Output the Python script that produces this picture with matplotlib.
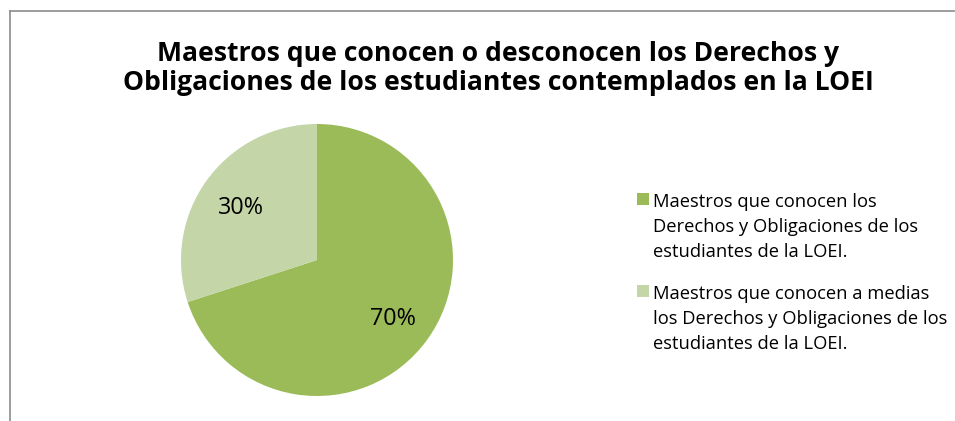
import matplotlib
matplotlib.use("Agg")
import matplotlib.pyplot as plt
import matplotlib.transforms as mtransforms
from matplotlib.lines import Line2D
from matplotlib.patches import Rectangle

TITLE_LINES = [
    "Maestros que conocen o desconocen los Derechos y",
    "Obligaciones de los estudiantes contemplados en la LOEI",
]
LABELS = [
    "Maestros que conocen los\nDerechos y Obligaciones de los\nestudiantes de la LOEI.",
    "Maestros que conocen a medias\nlos Derechos y Obligaciones de los\nestudiantes de la LOEI.",
]
VALUES = [70, 30]
COLORS = ["#9BBB59", "#C4D5A7"]

plt.rcParams["font.family"] = ["Open Sans", "DejaVu Sans"]

W, H = 955, 421
fig = plt.figure(figsize=(W / 100, H / 100), dpi=100)


def fx(px):
    return px / W


def fy(py):
    return 1 - py / H


# chart frame (only top and left edges visible in the crop)
fig.add_artist(Line2D([fx(9.5), fx(9.5)], [0, fy(10.5)],
                      transform=fig.transFigure, color="#8C8C8C", lw=1.2))
fig.add_artist(Line2D([fx(9.5), 1], [fy(10.5), fy(10.5)],
                      transform=fig.transFigure, color="#8C8C8C", lw=1.2))

for i, line in enumerate(TITLE_LINES):
    fig.text(fx(498), fy(61.5 + 28.5 * i), line, ha="center", va="baseline",
             fontsize=19.1, fontweight="bold", color="#000000")

ax = fig.add_axes([fx(181), 1 - 396 / H, 272 / W, 272 / H])
wedges, _, autotexts = ax.pie(
    VALUES, colors=COLORS, startangle=90, counterclock=False,
    autopct="%1.0f%%", pctdistance=0.69, radius=1.0,
    textprops={"fontsize": 16.8, "color": "#000000"},
)
# nudge the percentage labels a few pixels down to sit like the original
nudge = mtransforms.ScaledTranslation(0, -3.5 / 100, fig.dpi_scale_trans)
for t in autotexts:
    t.set_transform(t.get_transform() + nudge)
ax.set_xlim(-1, 1)
ax.set_ylim(-1, 1)
ax.axis("off")

# legend: square marker aligned with the first text line
entry_top = [207, 299]
for wedge, label, base in zip(wedges, LABELS, entry_top):
    fig.add_artist(Rectangle((fx(637), fy(base - 2)), 12 / W, 12 / H,
                             transform=fig.transFigure,
                             facecolor=wedge.get_facecolor(), edgecolor="none"))
    for j, line in enumerate(label.split("\n")):
        fig.text(fx(653), fy(base + 25 * j), line, ha="left", va="baseline",
                 fontsize=13.2, color="#000000")

fig.savefig("out.png", dpi=100, facecolor="white")
